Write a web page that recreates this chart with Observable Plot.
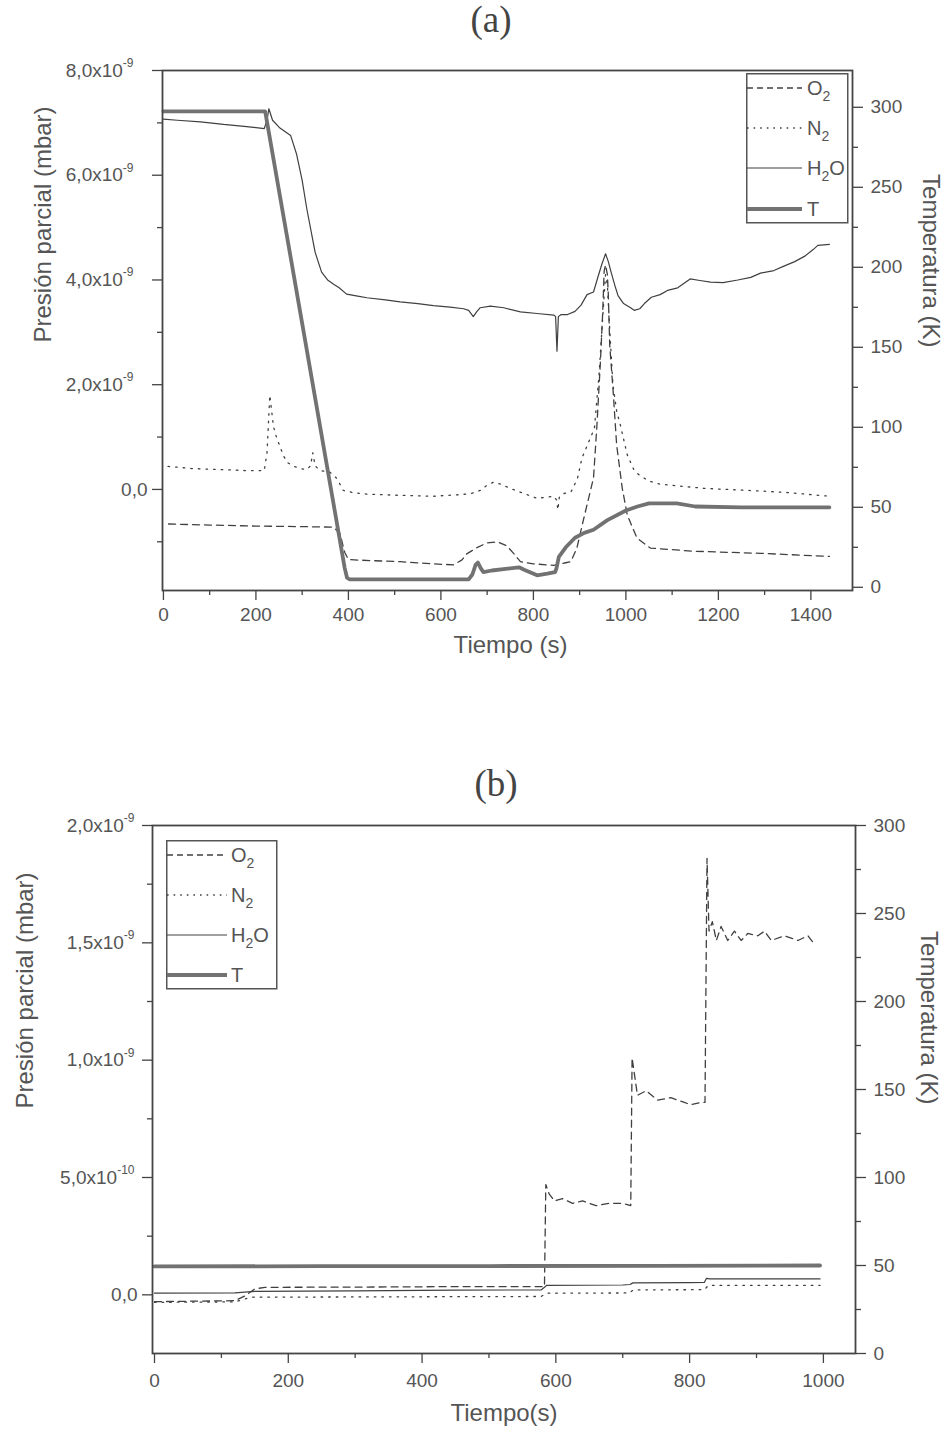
<!DOCTYPE html>
<html>
<head>
<meta charset="utf-8">
<script src="https://cdn.jsdelivr.net/npm/d3@7"></script>
<script src="https://cdn.jsdelivr.net/npm/@observablehq/plot@0.6"></script>
<style>
  html, body { margin: 0; padding: 0; background: #fff; }
  #root { position: relative; width: 949px; height: 1441px; overflow: hidden; background: #fff; }
  .panel { position: absolute; left: 0; }
  .ptitle { position: absolute; font-family: "Liberation Serif", "DejaVu Serif", serif; font-size: 37px; color: #444; line-height: 1; transform: translate(-50%, -50%); }
  .legend { position: absolute; overflow: visible; }
</style>
</head>
<body>
<div id="root"></div>
<script>
// ---------------- Panel (a) data ----------------
// time in s, pressures in units of 1e-9 mbar, temperature in K
const a_O2_t = [11,100,200,300,368,382,392,400,450,512,580,627,645,656,678,700,722,743,760,772,800,844,870,881,894,909,930,937,945,950,953,956,960,962,965,973,980,992,1003,1024,1053,1147,1291,1440];
const a_O2   = [-0.66,-0.68,-0.70,-0.71,-0.72,-0.85,-1.20,-1.34,-1.36,-1.38,-1.42,-1.44,-1.35,-1.23,-1.11,-1.02,-1.00,-1.08,-1.25,-1.38,-1.42,-1.45,-1.40,-1.38,-1.12,-0.55,0.22,1.17,2.45,3.41,4.17,4.29,4.10,3.72,2.76,1.80,0.85,0.03,-0.49,-0.93,-1.12,-1.18,-1.22,-1.28];

const a_N2_t = [10,60,120,180,218,224,230,234,238,245,252,260,267,280,295,310,318,323,328,339,360,375,389,410,440,500,584,640,664,685,700,714,730,750,780,808,844,850,853,856,865,881,895,905,923,932,942,950,956,960,966,972,980,988,1003,1018,1031,1050,1074,1170,1291,1350,1440];
const a_N2   = [0.44,0.40,0.38,0.36,0.36,0.70,1.80,1.50,1.20,0.98,0.82,0.64,0.52,0.45,0.40,0.38,0.45,0.70,0.45,0.36,0.33,0.21,-0.02,-0.06,-0.09,-0.11,-0.13,-0.10,-0.08,-0.02,0.08,0.14,0.10,0.02,-0.08,-0.17,-0.13,-0.20,-0.39,-0.15,-0.08,-0.05,0.20,0.60,0.98,1.17,2.20,3.30,4.10,3.90,2.90,2.00,1.50,1.23,0.66,0.36,0.26,0.16,0.10,0.02,-0.03,-0.06,-0.13];

const a_H2O_t = [0,30,80,130,180,218,224,228,236,252,265,275,288,300,310,320,328,342,355,368,380,396,420,440,480,512,550,584,620,649,660,670,678,685,707,736,772,808,844,848,851,854,860,874,890,903,916,930,941,948,956,962,968,976,983,995,1010,1018,1030,1040,1055,1074,1090,1112,1139,1160,1183,1210,1242,1270,1291,1320,1343,1365,1386,1405,1415,1440];
const a_H2O   = [7.07,7.05,7.02,6.97,6.93,6.89,7.05,7.27,7.05,6.90,6.82,6.76,6.40,5.90,5.36,4.90,4.53,4.15,4.00,3.92,3.85,3.73,3.69,3.66,3.62,3.58,3.55,3.51,3.48,3.45,3.42,3.30,3.40,3.47,3.50,3.47,3.39,3.36,3.33,3.30,2.64,3.30,3.34,3.34,3.40,3.52,3.72,3.77,4.10,4.30,4.50,4.35,4.15,3.90,3.70,3.55,3.47,3.42,3.45,3.55,3.67,3.72,3.80,3.85,4.02,3.99,3.96,3.95,4.00,4.05,4.13,4.18,4.27,4.35,4.45,4.58,4.66,4.68];

const a_T_t = [0,100,220,300,392,397,402,500,600,660,668,675,680,686,692,710,740,769,780,808,830,847,850,855,870,890,910,930,960,1000,1025,1050,1110,1150,1250,1440];
const a_T   = [297.5,297.5,297.5,165,12,6,5,5,5,5,8,14,15.5,12,9.5,10.5,11.5,12.5,11,7.5,8.5,9.5,12,19,25,31,34,36,42,48,50.5,52.5,52.5,50.5,50,50];

// ---------------- Panel (b) data ----------------
const b_O2_t = [0,60,120,135,150,165,300,450,583,585,590,598,610,625,640,660,680,700,712,714,718,722,735,752,772,792,802,817,823,826,829,834,840,847,857,867,877,887,902,912,922,942,962,977,985];
const b_O2   = [-0.029,-0.027,-0.025,-0.005,0.025,0.032,0.033,0.035,0.035,0.47,0.43,0.40,0.41,0.39,0.40,0.38,0.39,0.39,0.38,1.01,0.93,0.85,0.87,0.83,0.84,0.82,0.81,0.82,0.82,1.86,1.55,1.59,1.51,1.57,1.51,1.55,1.51,1.54,1.53,1.55,1.51,1.53,1.51,1.53,1.50];

const b_N2_t = [0,120,145,300,578,586,710,716,822,828,995];
const b_N2   = [-0.032,-0.030,-0.010,-0.009,-0.007,0.007,0.008,0.021,0.022,0.040,0.040];

const b_H2O_t = [0,120,150,300,450,578,583,586,700,711,715,800,822,825,830,995];
const b_H2O   = [0.007,0.008,0.015,0.017,0.020,0.021,0.032,0.040,0.042,0.044,0.051,0.052,0.053,0.070,0.068,0.068];

const b_T_t = [0,250,500,750,995];
const b_T   = [49.5,49.6,49.7,49.8,50.0];

// ---------------- Axis ticks & labels ----------------
const a_timeTicks = [0,200,400,600,800,1000,1200,1400];
const a_timeMinor = [100,300,500,700,900,1100,1300];
const a_presTicks = [0,2e-9,4e-9,6e-9,8e-9];
const a_presLabels = ["0,0","2,0x10^-9","4,0x10^-9","6,0x10^-9","8,0x10^-9"];
const a_presMinor = [-1e-9,1e-9,3e-9,5e-9,7e-9];
const a_tempTicks = [0,50,100,150,200,250,300];
const a_tempMinor = [25,75,125,175,225,275];

const b_timeTicks = [0,200,400,600,800,1000];
const b_timeMinor = [100,300,500,700,900];
const b_presTicks = [0,0.5e-9,1e-9,1.5e-9,2e-9];
const b_presLabels = ["0,0","5,0x10^-10","1,0x10^-9","1,5x10^-9","2,0x10^-9"];
const b_presMinor = [0.25e-9,0.75e-9,1.25e-9,1.75e-9];
const b_tempTicks = [0,50,100,150,200,250,300];
const b_tempMinor = [25,75,125,175,225,275];

const seriesNames = ["O2","N2","H2O","T"];

// ---------------- helpers ----------------
const NS = "http://www.w3.org/2000/svg";
const pts = (ts, vs, k) => ts.map((t, i) => ({t, v: vs[i] * k}));
const LINE = "#404040", TCOL = "#727272", TXT = "#555";
const styleO2 = {stroke: LINE, strokeWidth: 1.3, strokeDasharray: "7,5"};
const styleN2 = {stroke: LINE, strokeWidth: 1.3, strokeDasharray: "1.6,6"};
const styleH2O = {stroke: LINE, strokeWidth: 1.2};
const styleT = {stroke: TCOL, strokeWidth: 3.8};

function makePanel(cfg) {
  const L = cfg.left, R = cfg.right;
  const toLeft = T => L[0] + (T - R[0]) / (R[1] - R[0]) * (L[1] - L[0]);
  const fromLeft = v => R[0] + (v - L[0]) / (L[1] - L[0]) * (R[1] - R[0]);
  const O2 = pts(cfg.O2t, cfg.O2, 1e-9);
  const N2 = pts(cfg.N2t, cfg.N2, 1e-9);
  const H2O = pts(cfg.H2Ot, cfg.H2O, 1e-9);
  const T = pts(cfg.Tt, cfg.T, 1);
  const axisCommon = {stroke: "#444", strokeWidth: 1.3, label: null};
  const svg = Plot.plot({
    width: 949, height: cfg.height,
    marginTop: cfg.mt, marginBottom: cfg.mb, marginLeft: cfg.ml, marginRight: cfg.mr,
    style: {fontFamily: "'Liberation Sans', Arial, sans-serif", fontSize: "19px", color: TXT, background: "#fff", overflow: "visible"},
    x: {domain: cfg.xdomain},
    y: {domain: L},
    marks: [
      Plot.line(O2, {x: "t", y: "v", ...styleO2}),
      Plot.line(N2, {x: "t", y: "v", ...styleN2}),
      Plot.line(H2O, {x: "t", y: "v", ...styleH2O}),
      Plot.line(T, {x: "t", y: d => toLeft(d.v), ...styleT}),
      Plot.frame({stroke: "#454545", strokeWidth: 1.8}),
      Plot.axisX(cfg.timeTicks, {...axisCommon, tickSize: 10, tickPadding: cfg.xpad, tickFormat: d => String(d)}),
      Plot.axisX(cfg.timeMinor, {...axisCommon, tickSize: 5, tickFormat: () => ""}),
      Plot.axisY(cfg.presTicks, {...axisCommon, tickSize: 10, tickPadding: 5, tickFormat: d => cfg.presLabels[cfg.presTicks.indexOf(d)]}),
      Plot.axisY(cfg.presMinor, {...axisCommon, tickSize: 5, tickFormat: () => ""}),
      Plot.axisY(cfg.tempTicks.map(toLeft), {...axisCommon, anchor: "right", tickSize: 10, tickPadding: 8, tickFormat: d => String(Math.round(fromLeft(d)))}),
      Plot.axisY(cfg.tempMinor.map(toLeft), {...axisCommon, anchor: "right", tickSize: 5, tickFormat: () => ""}),
      Plot.text([cfg.xlabel], {frameAnchor: "bottom", dx: cfg.xlab[0], dy: cfg.xlab[1], text: d => d, fontSize: 24, fill: TXT}),
      Plot.text(["Presión parcial (mbar)"], {frameAnchor: "left", dx: cfg.ylab[0], dy: cfg.ylab[1], rotate: -90, text: d => d, fontSize: 24, fill: TXT}),
      Plot.text(["Temperatura (K)"], {frameAnchor: "right", dx: cfg.rlab[0], dy: cfg.rlab[1], rotate: 90, text: d => d, fontSize: 24, fill: TXT})
    ]
  });
  // superscript exponents in tick labels
  svg.querySelectorAll("text").forEach(t => {
    const s = t.textContent;
    if (!s.includes("^")) return;
    const [base, exp] = s.split("^");
    t.textContent = "";
    const t1 = document.createElementNS(NS, "tspan"); t1.textContent = base;
    const t2 = document.createElementNS(NS, "tspan"); t2.textContent = exp;
    t2.setAttribute("font-size", "12px"); t2.setAttribute("dy", "-0.8em");
    t.append(t1, t2);
    if (cfg.expShift) t.setAttribute("transform", `translate(${cfg.expShift},0) ` + (t.getAttribute("transform") || ""));
  });
  return svg;
}

function legend(left, top, w, h, ys, lineEnd, textX) {
  const sub = (a, b, c) => `${a}<tspan font-size="14" dy="6">${b}</tspan>${c ? `<tspan dy="-6">${c}</tspan>` : ""}`;
  const labels = [sub("O", "2"), sub("N", "2"), sub("H", "2", "O"), "T"];
  const styles = [
    `stroke="${LINE}" stroke-width="1.3" stroke-dasharray="6,4"`,
    `stroke="${LINE}" stroke-width="1.3" stroke-dasharray="1.6,5"`,
    `stroke="${LINE}" stroke-width="1.2"`,
    `stroke="${TCOL}" stroke-width="3.8"`
  ];
  let s = `<svg class="legend" xmlns="${NS}" width="${w + 24}" height="${h + 4}" style="left:${left}px;top:${top}px" font-family="'Liberation Sans', Arial, sans-serif">`;
  s += `<rect x="0.75" y="0.75" width="${w}" height="${h}" fill="#fff" stroke="#555" stroke-width="1.5"/>`;
  ys.forEach((y, i) => {
    s += `<line x1="1" x2="${lineEnd}" y1="${y}" y2="${y}" ${styles[i]}/>`;
    s += `<text x="${textX}" y="${y + 7}" font-size="20" fill="${TXT}">${labels[i]}</text>`;
  });
  s += `</svg>`;
  return s;
}

const root = document.getElementById("root");

// Panel (a)
const divA = document.createElement("div"); divA.className = "panel"; divA.style.top = "0px";
divA.appendChild(makePanel({
  height: 740, mt: 70, mb: 150, ml: 162, mr: 97,
  xdomain: [-2, 1490], left: [-1.93e-9, 8.0e-9], right: [-2, 323],
  O2t: a_O2_t, O2: a_O2, N2t: a_N2_t, N2: a_N2, H2Ot: a_H2O_t, H2O: a_H2O, Tt: a_T_t, T: a_T,
  timeTicks: a_timeTicks, timeMinor: a_timeMinor, presTicks: a_presTicks, presLabels: a_presLabels, presMinor: a_presMinor,
  tempTicks: a_tempTicks, tempMinor: a_tempMinor, xpad: 7, expShift: -14,
  xlabel: "Tiempo (s)", xlab: [3, 62], ylab: [-119, 12], rlab: [78, 17]
}));
root.appendChild(divA);

// Panel (b)
const divB = document.createElement("div"); divB.className = "panel"; divB.style.top = "740px";
divB.appendChild(makePanel({
  height: 701, mt: 85, mb: 88, ml: 152, mr: 94,
  xdomain: [-3, 1048], left: [-0.25e-9, 2.0e-9], right: [0, 300],
  O2t: b_O2_t, O2: b_O2, N2t: b_N2_t, N2: b_N2, H2Ot: b_H2O_t, H2O: b_H2O, Tt: b_T_t, T: b_T,
  timeTicks: b_timeTicks, timeMinor: b_timeMinor, presTicks: b_presTicks, presLabels: b_presLabels, presMinor: b_presMinor,
  tempTicks: b_tempTicks, tempMinor: b_tempMinor, xpad: 10, expShift: -3,
  xlabel: "Tiempo(s)", xlab: [0, 67], ylab: [-127, 19], rlab: [73, 15]
}));
root.appendChild(divB);

// Titles
root.insertAdjacentHTML("beforeend", `<div class="ptitle" style="left:491px;top:19px">(a)</div>`);
root.insertAdjacentHTML("beforeend", `<div class="ptitle" style="left:496px;top:783px">(b)</div>`);

// Legends
root.insertAdjacentHTML("beforeend", legend(746, 73, 101, 149, [15, 55, 95, 136], 56, 61));
root.insertAdjacentHTML("beforeend", legend(166, 840, 110, 148, [15, 55, 95, 135], 61, 65));
</script>
</body>
</html>
